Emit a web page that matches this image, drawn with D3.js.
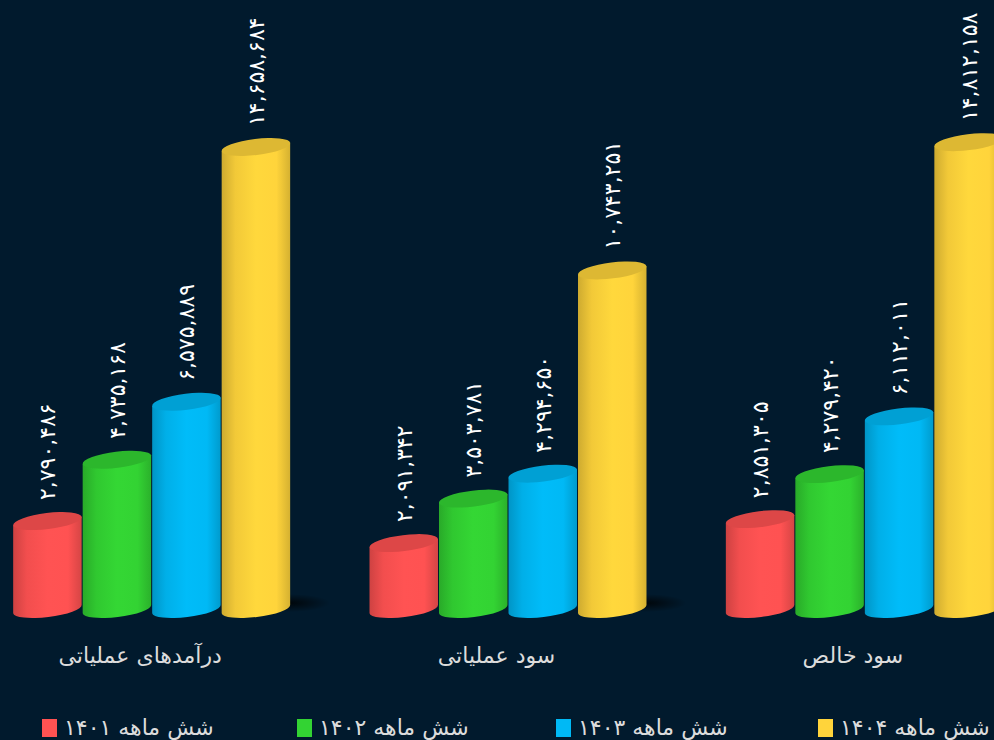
<!DOCTYPE html>
<html>
<head>
<meta charset="utf-8">
<script src="https://cdn.jsdelivr.net/npm/d3@7"></script>
<style>
  html, body { margin: 0; padding: 0; background: #011a2d; overflow: hidden; }
  svg { display: block; }
</style>
</head>
<body>
<svg id="grafico" width="994" height="740"></svg>
<script>
// categorias y series
var categorias = ["درآمدهای عملیاتی", "سود عملیاتی", "سود خالص"];
var series = ["شش ماهه ۱۴۰۱", "شش ماهه ۱۴۰۲", "شش ماهه ۱۴۰۳", "شش ماهه ۱۴۰۴"];
var colores = ["#ff5252", "#33d333", "#00b9f5", "#ffd43b"];
var valores1401 = [2790486, 2091342, 2851305];
var valores1402 = [4735168, 3503781, 4279420];
var valores1403 = [6575889, 4294650, 6112011];
var valores1404 = [14658684, 10743251, 14812158];
var valores = [valores1401, valores1402, valores1403, valores1404];

var width = 994, height = 740;
var svg = d3.select("#grafico");
var defs = svg.append("defs");

// digitos persas
var persa = "۰۱۲۳۴۵۶۷۸۹";
var aPersa = function (s) { return String(s).replace(/[0-9]/g, function (c) { return persa[+c]; }); };
var formato = d3.format(",");

// escalas
var x0 = d3.scaleBand().domain(categorias).range([-38, 1031]);
var x1 = d3.scaleBand().domain(series).range([-127.5, 150.5]);
var y = d3.scaleLinear().domain([0, 14658684]).range([609, 147]);

var rx = 34.5, ry = 8, ang = -7;
var th = ang * Math.PI / 180;

// gradientes de cada cilindro
colores.forEach(function (c, i) {
  var g = defs.append("linearGradient").attr("id", "grad" + i)
    .attr("x1", "0%").attr("x2", "100%").attr("y1", "0%").attr("y2", "0%");
  var base = d3.rgb(c);
  g.append("stop").attr("offset", "0%").attr("stop-color", base.darker(0.6));
  g.append("stop").attr("offset", "20%").attr("stop-color", base.darker(0.15));
  g.append("stop").attr("offset", "50%").attr("stop-color", base.brighter(0.05));
  g.append("stop").attr("offset", "80%").attr("stop-color", base);
  g.append("stop").attr("offset", "100%").attr("stop-color", base.darker(0.5));
});

var sombra = defs.append("radialGradient").attr("id", "sombra");
sombra.append("stop").attr("offset", "0%").attr("stop-color", "#000").attr("stop-opacity", 0.75);
sombra.append("stop").attr("offset", "100%").attr("stop-color", "#000").attr("stop-opacity", 0);

// sombra de cada grupo
svg.append("g").selectAll("ellipse").data(categorias).enter().append("ellipse")
  .attr("cx", function (d) { return x0(d) + x0.bandwidth() / 2 + 150; })
  .attr("cy", 603)
  .attr("rx", 40).attr("ry", 9)
  .attr("fill", "url(#sombra)");

// cilindros
var grupos = svg.append("g").selectAll("g").data(categorias).enter().append("g")
  .attr("transform", function (d) { return "translate(" + (x0(d) + x0.bandwidth() / 2) + ",0)"; });

grupos.each(function (cat, ci) {
  var g = d3.select(this);
  series.forEach(function (s, si) {
    var cx = x1(s) + x1.bandwidth() / 2;
    var ytop = y(valores[si][ci]), ybot = y(0);
    var dx = rx * Math.cos(th), dy = rx * Math.sin(th);
    var cuerpo = "M" + (cx - dx) + "," + (ytop - dy) +
      " L" + (cx - dx) + "," + (ybot - dy) +
      " A" + rx + "," + ry + " " + ang + " 0 0 " + (cx + dx) + "," + (ybot + dy) +
      " L" + (cx + dx) + "," + (ytop + dy) + " Z";
    g.append("path").attr("d", cuerpo).attr("fill", "url(#grad" + si + ")");
    g.append("ellipse")
      .attr("cx", cx).attr("cy", ytop).attr("rx", rx).attr("ry", ry)
      .attr("transform", "rotate(" + ang + "," + cx + "," + ytop + ")")
      .attr("fill", d3.rgb(colores[si]).darker(0.4));
    // etiqueta del valor
    var lx = cx + 8, ly = ytop - 21;
    g.append("text")
      .attr("transform", "translate(" + lx + "," + ly + ") rotate(-90)")
      .attr("font-family", "DejaVu Sans")
      .attr("font-size", 22)
      .attr("fill", "#ffffff")
      .attr("text-anchor", "start")
      .text(aPersa(formato(valores[si][ci])));
  });
});

// eje X con nombres de categorias
var ejeX = d3.axisBottom(x0).tickSize(0).tickPadding(0);
var gx = svg.append("g").attr("transform", "translate(0,663)").call(ejeX);
gx.select(".domain").remove();
gx.selectAll("text")
  .attr("dy", 0)
  .attr("font-family", "DejaVu Sans")
  .attr("font-size", 22)
  .attr("fill", "#dcdcdc");

// leyenda
var leyendaX = [42, 297, 556, 818];
var ley = svg.append("g").selectAll("g").data(series).enter().append("g")
  .attr("transform", function (d, i) { return "translate(" + leyendaX[i] + ",719)"; });
ley.append("rect").attr("width", 15).attr("height", 18)
  .attr("fill", function (d, i) { return colores[i]; });
ley.append("text")
  .attr("x", 22).attr("y", 16)
  .attr("font-family", "DejaVu Sans")
  .attr("font-size", 22)
  .attr("fill", "#dcdcdc")
  .text(function (d) { return d; });
</script>
</body>
</html>
